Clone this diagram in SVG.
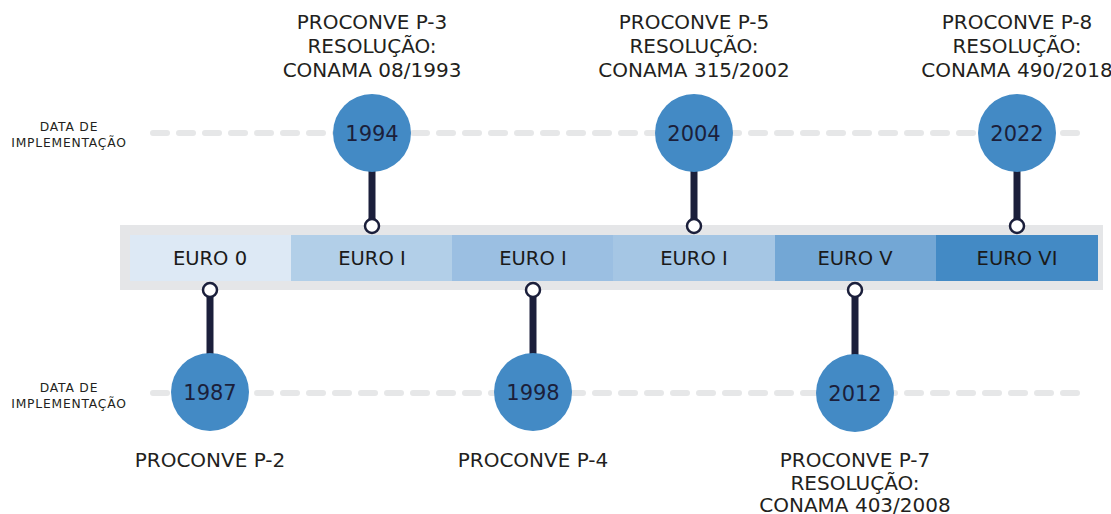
<svg xmlns="http://www.w3.org/2000/svg" width="1111" height="514" viewBox="0 0 1111 514">
<style>
text{font-family:"DejaVu Sans","Liberation Sans",sans-serif;fill:#231f20;text-anchor:middle}
.lbl{font-size:20px}
.euro{font-size:19.5px;fill:#1a1a1a}
.yr{font-size:21px;fill:#1b1f3b}
.side{font-size:12.3px;letter-spacing:0.8px}
.dash{stroke:#e6e7e8;stroke-width:6;stroke-linecap:round;stroke-dasharray:14 12;fill:none}
.stem{stroke:#1b1f3b;stroke-width:7}
.dot{fill:#fff;stroke:#1b1f3b;stroke-width:2.5}
.big{fill:#438ac5}
</style>
<rect width="1111" height="514" fill="#fff"/>
<g id="guides">
<line class="dash" x1="153" y1="133" x2="1077" y2="133"/>
<line class="dash" x1="153" y1="393" x2="1077" y2="393"/>
<text class="side" x="69" y="131">DATA DE</text>
<text class="side" x="69" y="147">IMPLEMENTAÇÃO</text>
<text class="side" x="69" y="392">DATA DE</text>
<text class="side" x="69" y="408">IMPLEMENTAÇÃO</text>
</g>
<g id="band">
<rect x="120" y="225" width="983" height="65" fill="#e5e6e8"/>
<rect x="130" y="235" width="161" height="46" fill="#dde9f5"/>
<rect x="291" y="235" width="161" height="46" fill="#b2cfe8"/>
<rect x="452" y="235" width="161" height="46" fill="#9bbfe2"/>
<rect x="613" y="235" width="162" height="46" fill="#a5c6e4"/>
<rect x="775" y="235" width="161" height="46" fill="#73a7d5"/>
<rect x="936" y="235" width="162" height="46" fill="#438ac5"/>
<text class="euro" x="210" y="265">EURO 0</text>
<text class="euro" x="372" y="265">EURO I</text>
<text class="euro" x="533" y="265">EURO I</text>
<text class="euro" x="694" y="265">EURO I</text>
<text class="euro" x="855" y="265">EURO V</text>
<text class="euro" x="1017" y="265">EURO VI</text>
</g>
<g id="connectors">
<line class="stem" x1="372" y1="170" x2="372" y2="220"/>
<line class="stem" x1="694" y1="170" x2="694" y2="220"/>
<line class="stem" x1="1017" y1="170" x2="1017" y2="220"/>
<line class="stem" x1="210" y1="296" x2="210" y2="356"/>
<line class="stem" x1="533" y1="296" x2="533" y2="356"/>
<line class="stem" x1="855" y1="296" x2="855" y2="356"/>
<circle class="dot" cx="372" cy="226" r="7"/>
<circle class="dot" cx="694" cy="226" r="7"/>
<circle class="dot" cx="1017" cy="226" r="7"/>
<circle class="dot" cx="210" cy="290" r="7"/>
<circle class="dot" cx="533" cy="290" r="7"/>
<circle class="dot" cx="855" cy="290" r="7"/>
</g>
<g id="n1994">
<circle class="big" cx="372" cy="133" r="39"/>
<text class="yr" x="372" y="141">1994</text>
<text class="lbl" x="372" y="29">PROCONVE P-3</text>
<text class="lbl" x="372" y="53">RESOLUÇÃO:</text>
<text class="lbl" x="372" y="77">CONAMA 08/1993</text>
</g>
<g id="n2004">
<circle class="big" cx="694" cy="133" r="39"/>
<text class="yr" x="694" y="141">2004</text>
<text class="lbl" x="694" y="29">PROCONVE P-5</text>
<text class="lbl" x="694" y="53">RESOLUÇÃO:</text>
<text class="lbl" x="694" y="77">CONAMA 315/2002</text>
</g>
<g id="n2022">
<circle class="big" cx="1017" cy="133" r="39"/>
<text class="yr" x="1017" y="141">2022</text>
<text class="lbl" x="1017" y="29">PROCONVE P-8</text>
<text class="lbl" x="1017" y="53">RESOLUÇÃO:</text>
<text class="lbl" x="1017" y="77">CONAMA 490/2018</text>
</g>
<g id="n1987">
<circle class="big" cx="210" cy="392" r="39"/>
<text class="yr" x="210" y="400">1987</text>
<text class="lbl" x="210" y="467">PROCONVE P-2</text>
</g>
<g id="n1998">
<circle class="big" cx="533" cy="392" r="39"/>
<text class="yr" x="533" y="400">1998</text>
<text class="lbl" x="533" y="467">PROCONVE P-4</text>
</g>
<g id="n2012">
<circle class="big" cx="855" cy="393" r="39"/>
<text class="yr" x="855" y="401">2012</text>
<text class="lbl" x="855" y="467">PROCONVE P-7</text>
<text class="lbl" x="855" y="490">RESOLUÇÃO:</text>
<text class="lbl" x="855" y="512">CONAMA 403/2008</text>
</g>
</svg>
